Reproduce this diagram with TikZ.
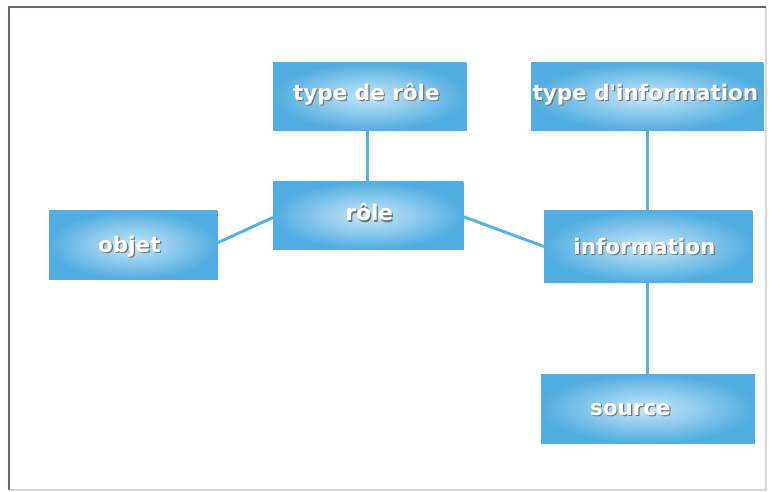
\documentclass[tikz,border=0pt]{standalone}
\usepackage{fontspec}
\setmainfont{DejaVu Sans}[Ligatures=TeXOff]
\usetikzlibrary{calc}
\definecolor{boxedge}{HTML}{52AEE2}
\definecolor{boxmid}{HTML}{C6E6F7}
\definecolor{linkcol}{HTML}{55B2E0}
\definecolor{frametop}{HTML}{7A5C72}
\definecolor{framebot}{HTML}{D4D6DC}
\newcommand{\boxlabel}[1]{%
  \tikz[baseline=(t.base)]{%
    \node[inner sep=0pt, text=black!55, font=\bfseries\fontsize{21.5}{24}\selectfont] at (1.2pt,-1.4pt) {#1};
    \node[inner sep=0pt, text=white, font=\bfseries\fontsize{21.5}{24}\selectfont] (t) at (0,0) {#1};}}
\tikzset{
  conbox/.style={rectangle, inner sep=0pt, outer sep=0pt,
    inner color=boxmid, outer color=boxedge, draw=boxedge, line width=0.6pt},
  link/.style={draw=linkcol, line width=3pt},
}
\begin{document}
\begin{tikzpicture}[x=1pt,y=-1pt]
\useasboundingbox (0,0) rectangle (769,492);
\fill[white] (0,0) rectangle (769,492);
% frame
\draw[framebot, line width=1.5pt] (766,7) -- (766,490) -- (9,490);
\draw[frametop, line width=1.2pt] (9,490) -- (9,7) -- (766,7);
% boxes
\node[conbox, minimum width=193pt, minimum height=67pt] (typerole) at (369.5,96.5) {};
\node[conbox, minimum width=190pt, minimum height=67pt] (role) at (368,215.5) {};
\node[conbox, minimum width=168pt, minimum height=68pt] (objet) at (133,245) {};
\node[conbox, minimum width=232pt, minimum height=67pt] (typeinfo) at (647,96.5) {};
\node[conbox, minimum width=208pt, minimum height=71pt] (information) at (648,246.5) {};
\node[conbox, minimum width=213pt, minimum height=69pt] (source) at (647.5,408.5) {};
% connectors
\draw[link] (typerole.south -| 367,0) -- (role.north -| 367,0);
\draw[link] ($(objet.east)+(0,-2)$) -- ($(role.west)+(0,2)$);
\draw[link] ($(role.east)+(0,1)$) -- (information.west);
\draw[link] (typeinfo.south -| 647,0) -- (information.north -| 647,0);
\draw[link] (information.south -| 647,0) -- (source.north -| 647,0);
% labels
\node at (367,95) {\boxlabel{type de rôle}};
\node at (370,213) {\boxlabel{rôle}};
\node at (130,247) {\boxlabel{objet}};
\node at (646,95) {\boxlabel{type d'information}};
\node at (645,247) {\boxlabel{information}};
\node at (631,410) {\boxlabel{source}};
\end{tikzpicture}
\end{document}
